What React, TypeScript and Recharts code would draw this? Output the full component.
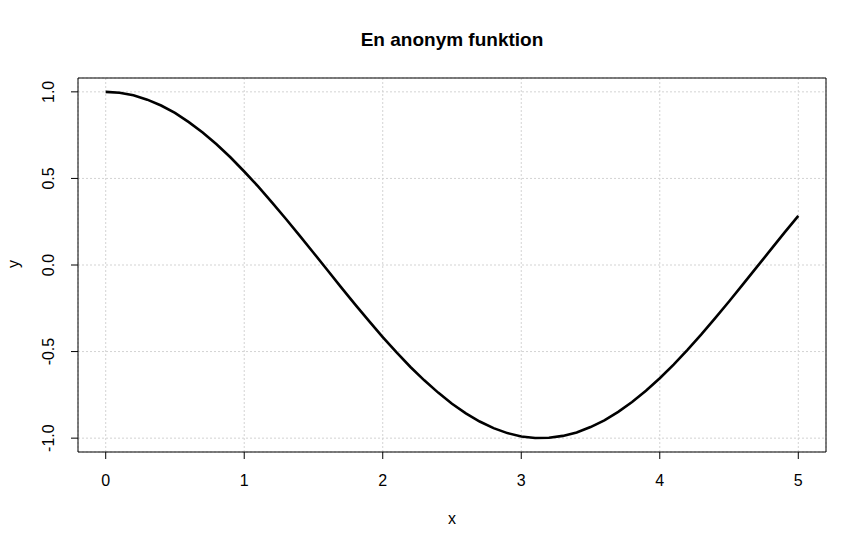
import { LineChart, Line, XAxis, YAxis, CartesianGrid, ReferenceArea } from 'recharts';

const xs = [
  0, 0.1, 0.2, 0.3, 0.4, 0.5, 0.6, 0.7, 0.8, 0.9,
  1, 1.1, 1.2, 1.3, 1.4, 1.5, 1.6, 1.7, 1.8, 1.9,
  2, 2.1, 2.2, 2.3, 2.4, 2.5, 2.6, 2.7, 2.8, 2.9,
  3, 3.1, 3.2, 3.3, 3.4, 3.5, 3.6, 3.7, 3.8, 3.9,
  4, 4.1, 4.2, 4.3, 4.4, 4.5, 4.6, 4.7, 4.8, 4.9, 5,
];

const ys = [
  1.0, 0.995, 0.98, 0.955, 0.921, 0.878, 0.825, 0.765, 0.697, 0.622,
  0.54, 0.454, 0.362, 0.267, 0.17, 0.071, -0.029, -0.129, -0.227, -0.323,
  -0.416, -0.505, -0.589, -0.666, -0.737, -0.801, -0.857, -0.904, -0.942, -0.971,
  -0.99, -0.999, -0.998, -0.987, -0.967, -0.936, -0.897, -0.848, -0.791, -0.726,
  -0.654, -0.575, -0.49, -0.401, -0.307, -0.211, -0.112, -0.012, 0.087, 0.187, 0.284,
];

const xTicks = [0, 1, 2, 3, 4, 5];
const yTicks = [-1, -0.5, 0, 0.5, 1];

const data = xs.map((x, i) => ({ x, y: ys[i] }));

const font = '"Liberation Sans", Arial, sans-serif';

function YTick(props: any) {
  const { x, y, payload } = props;
  const tx = x - 15;
  return (
    <text
      x={tx}
      y={y}
      transform={`rotate(-90, ${tx}, ${y})`}
      textAnchor="middle"
      fontSize={16}
      fontFamily={font}
      fill="#000"
    >
      {payload.value.toFixed(1)}
    </text>
  );
}

export default function App() {
  return (
    <div style={{ position: 'absolute', left: 0, top: 0, width: 866, height: 550, background: '#fff', fontFamily: font }}>
      <LineChart width={866} height={550} data={data} margin={{ top: 78, right: 40, bottom: 18, left: 0 }}>
        <CartesianGrid stroke="#d3d3d3" strokeDasharray="2 2" />
        <XAxis
          dataKey="x"
          type="number"
          domain={[-0.2, 5.2]}
          ticks={xTicks}
          allowDataOverflow
          axisLine={false}
          tickSize={7}
          tickMargin={16}
          tickLine={{ stroke: '#000' }}
          tick={{ fill: '#000', fontSize: 16, fontFamily: font }}
          height={80}
        />
        <YAxis
          type="number"
          domain={[-1.08, 1.08]}
          ticks={yTicks}
          allowDataOverflow
          axisLine={false}
          tickSize={7}
          tickMargin={2}
          tickLine={{ stroke: '#000' }}
          tick={<YTick />}
          width={78}
        />
        <ReferenceArea x1={-0.2} x2={5.2} y1={-1.08} y2={1.08} fill="none" fillOpacity={0} stroke="#000" strokeWidth={1} />
        <Line type="linear" dataKey="y" stroke="#000" strokeWidth={2.6} dot={false} isAnimationActive={false} />
      </LineChart>
      <div style={{ position: 'absolute', left: 0, width: 904, top: 29, textAlign: 'center', fontSize: 19, fontWeight: 'bold', color: '#000' }}>
        En anonym funktion
      </div>
      <div style={{ position: 'absolute', left: 0, width: 904, top: 510, textAlign: 'center', fontSize: 16, color: '#000' }}>
        x
      </div>
      <div style={{ position: 'absolute', left: 4, top: 254, width: 20, height: 20, lineHeight: '20px', textAlign: 'center', fontSize: 16, color: '#000', transform: 'rotate(-90deg)' }}>
        y
      </div>
    </div>
  );
}
